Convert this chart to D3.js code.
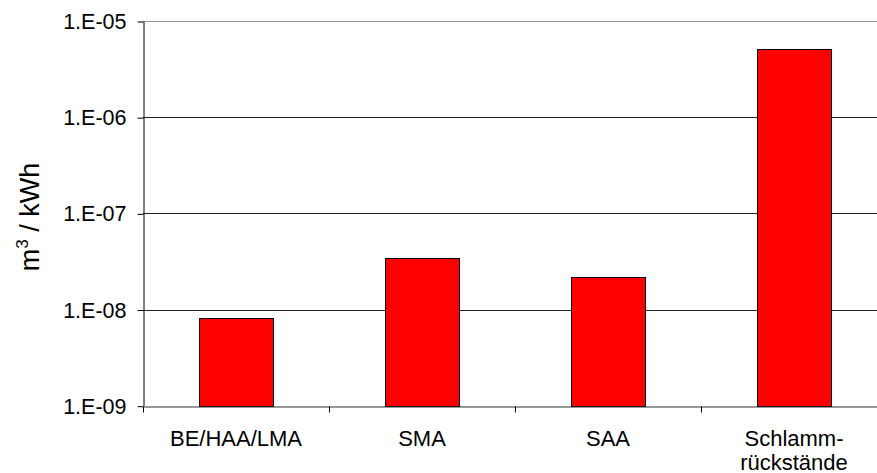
<!DOCTYPE html>
<html>
<head>
<meta charset="utf-8">
<script src="https://cdn.jsdelivr.net/npm/d3@7"></script>
<style>
  body { margin: 0; background: #fff; }
  svg { display: block; font-family: "Liberation Sans", Arial, sans-serif; }
</style>
</head>
<body>
<div id="chart"></div>
<script>
// data
let categories = ["BE/HAA/LMA", "SMA", "SAA", "Schlamm-\nrückstände"];
let values = [8.1e-9, 3.45e-8, 2.2e-8, 5.1e-6];
let yTicks = [1e-9, 1e-8, 1e-7, 1e-6, 1e-5];
let yTickLabels = ["1.E-09", "1.E-08", "1.E-07", "1.E-06", "1.E-05"];

let chartW = 877, chartH = 473;
let plotLeft = 143, plotTop = 21, plotBottom = 405.7, plotRight = 887;

let svg = d3.select("#chart").append("svg")
    .attr("width", chartW)
    .attr("height", chartH);

let x = d3.scaleBand()
    .domain(categories)
    .range([plotLeft, plotRight])
    .paddingInner(0)
    .paddingOuter(0);

let y = d3.scaleLog()
    .domain([1e-9, 1e-5])
    .range([plotBottom, plotTop]);

// gridlines
svg.append("g")
    .selectAll("line")
    .data(yTicks.slice(1))
    .enter().append("line")
        .attr("x1", plotLeft)
        .attr("x2", plotRight)
        .attr("y1", (d) => Math.round(y(d)) + 0.5)
        .attr("y2", (d) => Math.round(y(d)) + 0.5)
        .attr("stroke", (d) => d === 1e-5 ? "#999" : "#222")
        .attr("stroke-width", 1);

// bars
let bw = x.bandwidth() * 0.4;
svg.append("g")
    .selectAll("rect")
    .data(values)
    .enter().append("rect")
        .attr("x", (d, i) => Math.round(x(categories[i]) + (x.bandwidth() - bw) / 2) + 0.5)
        .attr("y", (d) => Math.round(y(d)) + 0.5)
        .attr("width", Math.round(bw))
        .attr("height", (d) => Math.round(y(1e-9)) - Math.round(y(d)))
        .attr("fill", "#ff0000")
        .attr("stroke", "#000")
        .attr("stroke-width", 1);

// y axis
let yAxis = d3.axisLeft(y)
    .tickValues(yTicks)
    .tickFormat((d, i) => yTickLabels[i])
    .tickSize(6)
    .tickSizeOuter(0);

let yg = svg.append("g")
    .attr("transform", "translate(" + (plotLeft + 0.5) + ",0)")
    .call(yAxis);
yg.selectAll("line").attr("stroke", "#000").attr("transform", "translate(0,0.5)");
yg.select(".domain").attr("stroke", "#000");
yg.selectAll("text")
    .attr("x", -17)
    .attr("dy", "0.35em")
    .style("font-size", "21.5px")
    .style("font-family", "'Liberation Sans', Arial, sans-serif")
    .attr("fill", "#000");

// x axis
let xAxis = d3.axisBottom(x)
    .tickValues([])
    .tickSizeOuter(0);

let xg = svg.append("g")
    .attr("transform", "translate(0," + (Math.round(plotBottom) + 0.5) + ")")
    .call(xAxis);
xg.select(".domain").attr("stroke", "#333");

// boundary ticks between categories
xg.selectAll(".bound")
    .data(categories.concat(["end"]))
    .enter().append("line")
        .attr("class", "bound")
        .attr("x1", (d, i) => Math.round(plotLeft + i * x.step()) + 0.5)
        .attr("x2", (d, i) => Math.round(plotLeft + i * x.step()) + 0.5)
        .attr("y1", 0)
        .attr("y2", 6)
        .attr("stroke", "#000");

// category labels
let labels = xg.selectAll(".cat")
    .data(categories)
    .enter().append("text")
        .attr("class", "cat")
        .attr("text-anchor", "middle")
        .attr("x", (d) => x(d) + x.bandwidth() / 2)
        .attr("y", 39)
        .style("font-size", "22px")
        .attr("fill", "#000");

labels.each(function(d) {
    let parts = d.split("\n");
    let t = d3.select(this);
    parts.forEach((p, k) => {
        t.append("tspan")
            .attr("x", x(d) + x.bandwidth() / 2)
            .attr("dy", k === 0 ? 0 : 24)
            .text(p);
    });
});

// y label
let yl = svg.append("text")
    .attr("transform", "translate(39," + 217 + ") rotate(-90)")
    .attr("text-anchor", "middle")
    .style("font-size", "27px")
    .attr("fill", "#000");
yl.append("tspan").text("m");
yl.append("tspan").attr("dy", -11).style("font-size", "17px").text("3");
yl.append("tspan").attr("dy", 11).text(" / kWh");
</script>
</body>
</html>
